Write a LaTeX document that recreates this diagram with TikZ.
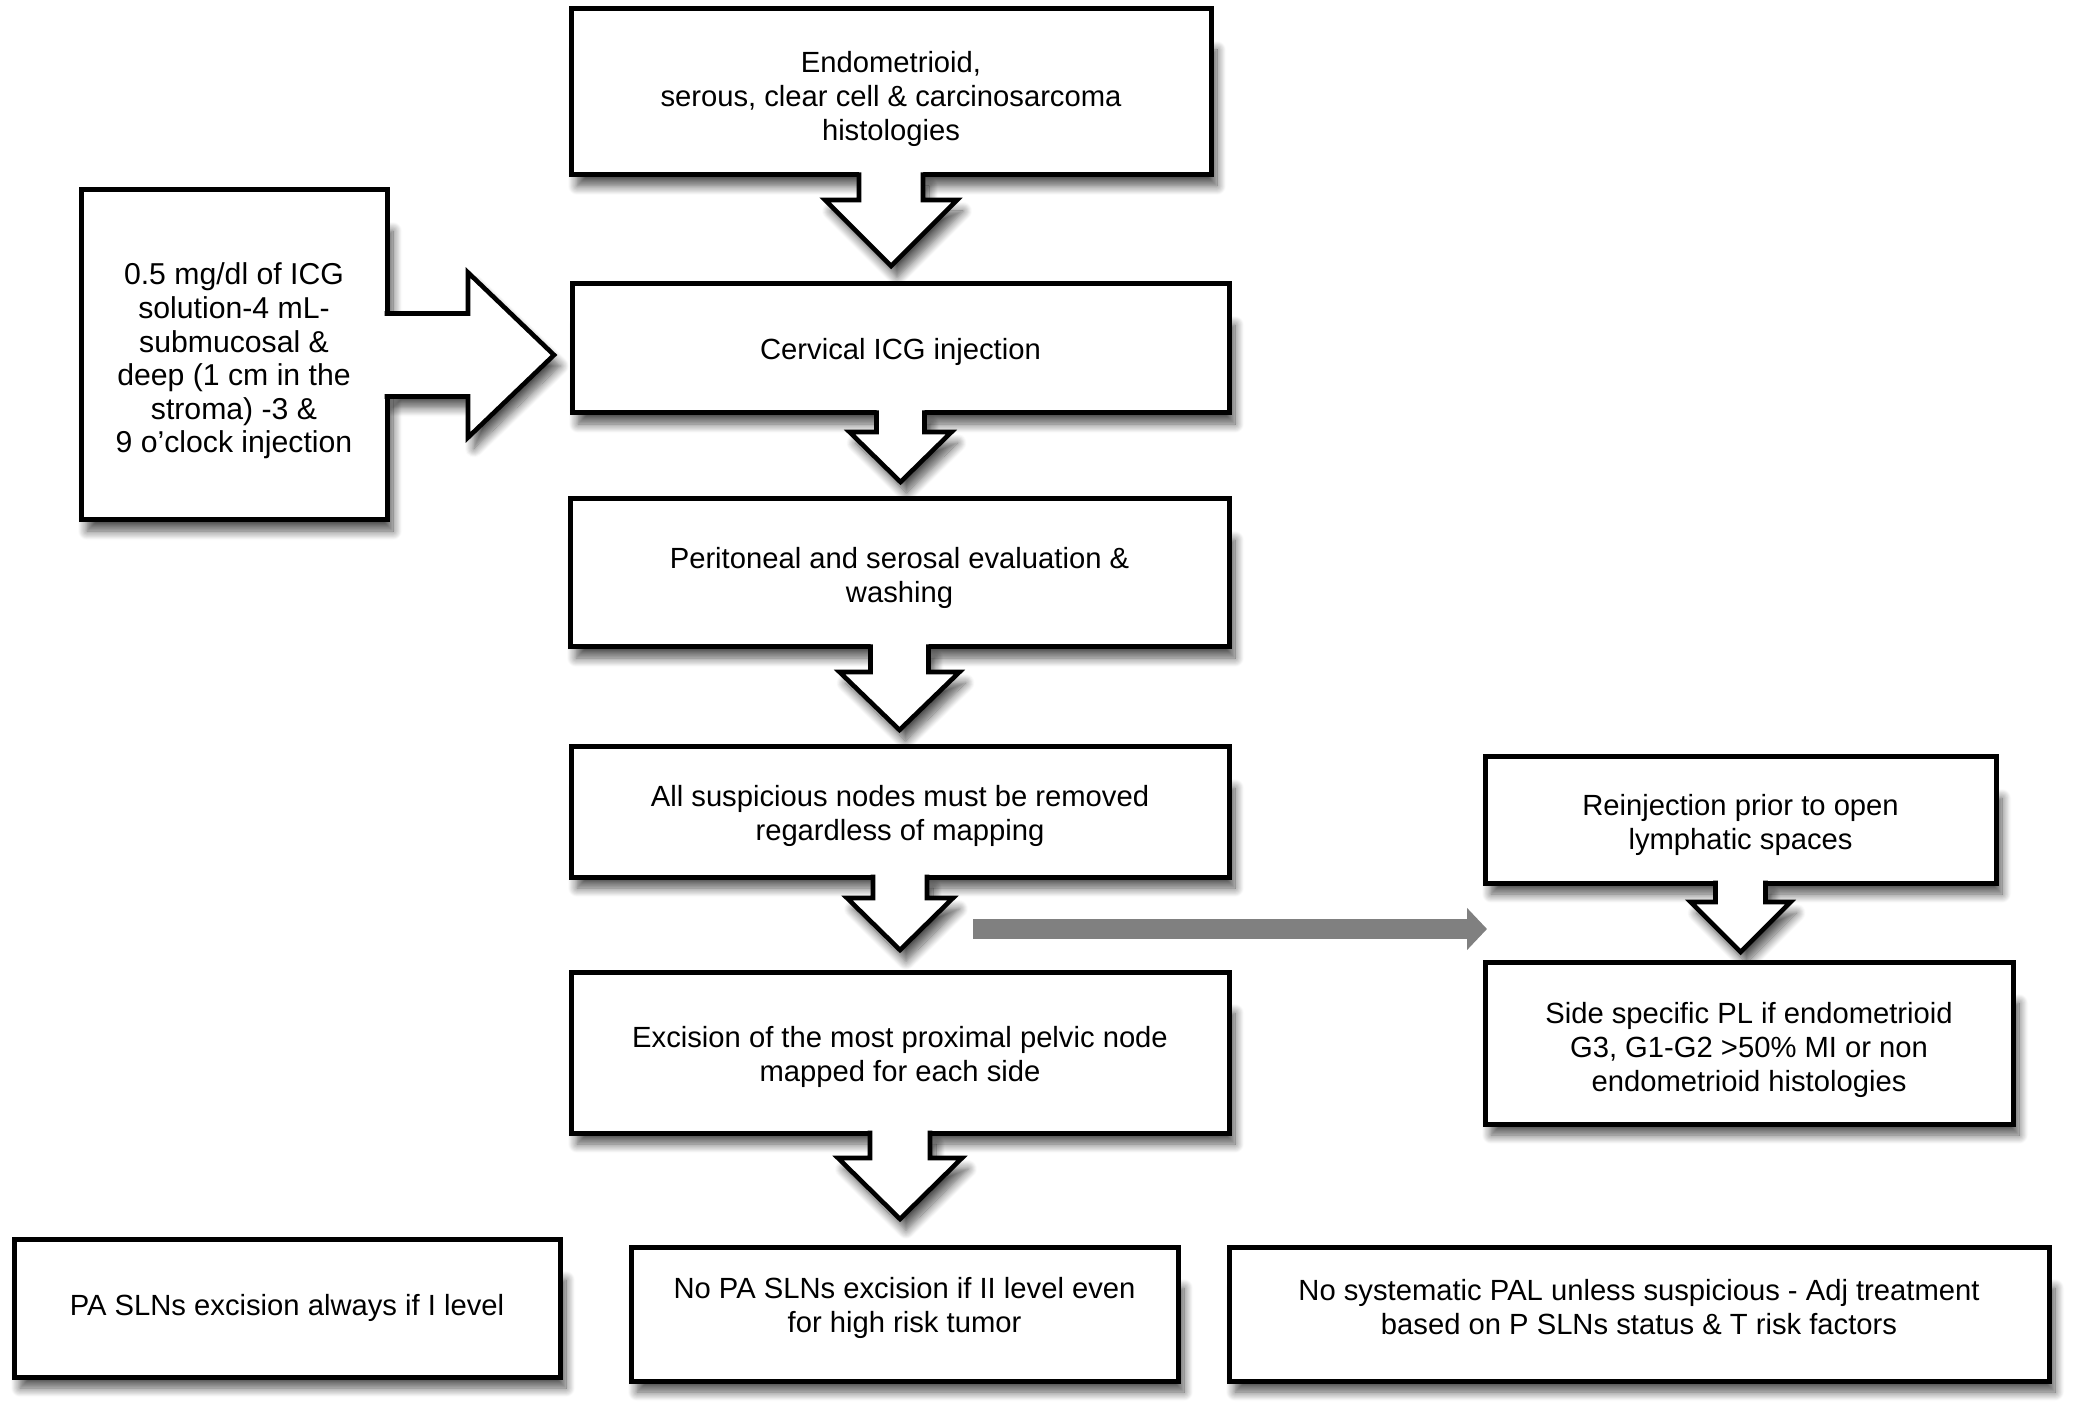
\documentclass[tikz,border=0pt]{standalone}
\usepackage{fontspec}
\setmainfont{Liberation Sans}
\usetikzlibrary{calc,shadows.blur,arrows.meta}
\pgfdeclarelayer{back}
\pgfdeclarelayer{bg}
\pgfsetlayers{back,bg,main}
\definecolor{arrgray}{RGB}{128,128,128}
\tikzset{
  bx/.style={draw, line width=2.5pt, fill=white, outer sep=0pt, inner sep=0pt},
  lbl/.style={align=center, inner sep=0pt, font=\fontsize{14.6}{17}\selectfont},
  shd/.style={blur shadow={shadow xshift=3pt, shadow yshift=-5.5pt, shadow blur radius=4.5pt,
    shadow opacity=68, shadow blur steps=12}},
  arrline/.style={line width=2.3pt, line join=miter},
}
% down block arrow: from, to, shaft half, head half, shaft length, gap (px)
\newcommand\dnarrow[6]{%
  \coordinate (tip) at ($(#1.south |- #2.north)+(0,-#6)$);
  \coordinate (s) at (#1.south);
  \begin{pgfonlayer}{bg}
    \path[shd] ($(s)+(-#3,0)$) -- ($(s)+(-#3,#5)$) -- ($(s)+(-#4,#5)$) -- (tip)
      -- ($(s)+(#4,#5)$) -- ($(s)+(#3,#5)$) -- ($(s)+(#3,0)$) -- cycle;
  \end{pgfonlayer}
  \fill[white] ($(s)+(-#3,-3)$) -- ($(s)+(-#3,#5)$) -- ($(s)+(-#4,#5)$) -- (tip)
      -- ($(s)+(#4,#5)$) -- ($(s)+(#3,#5)$) -- ($(s)+(#3,-3)$) -- cycle;
  \draw[arrline] ($(s)+(-#3,-2.5)$) -- ($(s)+(-#3,#5)$) -- ($(s)+(-#4,#5)$) -- (tip)
      -- ($(s)+(#4,#5)$) -- ($(s)+(#3,#5)$) -- ($(s)+(#3,-2.5)$);
}
% right block arrow
\newcommand\rtarrow[6]{%
  \coordinate (tip) at ($(#1.east -| #2.west)+(-#6,0)$);
  \coordinate (s) at (#1.east);
  \begin{pgfonlayer}{bg}
    \path[shd] ($(s)+(0,-#3)$) -- ($(s)+(#5,-#3)$) -- ($(s)+(#5,-#4)$) -- (tip)
      -- ($(s)+(#5,#4)$) -- ($(s)+(#5,#3)$) -- ($(s)+(0,#3)$) -- cycle;
  \end{pgfonlayer}
  \fill[white] ($(s)+(-3,-#3)$) -- ($(s)+(#5,-#3)$) -- ($(s)+(#5,-#4)$) -- (tip)
      -- ($(s)+(#5,#4)$) -- ($(s)+(#5,#3)$) -- ($(s)+(-3,#3)$) -- cycle;
  \draw[arrline] ($(s)+(-2.5,-#3)$) -- ($(s)+(#5,-#3)$) -- ($(s)+(#5,-#4)$) -- (tip)
      -- ($(s)+(#5,#4)$) -- ($(s)+(#5,#3)$) -- ($(s)+(-2.5,#3)$);
}
\begin{document}
\begin{tikzpicture}[x=0.5pt,y=-0.5pt]
\begin{pgfonlayer}{back}
\fill[white] (0,0) rectangle (2079,1411);
\end{pgfonlayer}
\useasboundingbox (0,0) rectangle (2079,1411);

\node[bx, minimum width=320pt, minimum height=83pt,
  label={[lbl,yshift=-3.5pt]center:{Endometrioid,\\serous, clear cell \& carcinosarcoma\\histologies}}]
  (b1) at (891,92) {};
\node[bx, minimum width=153pt, minimum height=165pt,
  label={[lbl,yshift=-3pt,font=\fontsize{15.1}{16.8}\selectfont]center:{0.5 mg/dl of ICG\\solution-4 mL-\\submucosal \&\\deep (1 cm in the\\stroma) -3 \&\\9 o’clock injection}}]
  (L) at (234,355) {};
\node[bx, minimum width=328.5pt, minimum height=64.5pt,
  label={[lbl,yshift=-1.5pt]center:{Cervical ICG injection}}]
  (b2) at (900.5,348.5) {};
\node[bx, minimum width=329.5pt, minimum height=74pt,
  label={[lbl,yshift=-2.5pt]center:{Peritoneal and serosal evaluation \&\\washing}}]
  (b3) at (899.5,573) {};
\node[bx, minimum width=329pt, minimum height=65pt,
  label={[lbl,yshift=-2pt]center:{All suspicious nodes must be removed\\regardless of mapping}}]
  (b4) at (900,812) {};
\node[bx, minimum width=329pt, minimum height=80.5pt,
  label={[lbl,yshift=-2pt]center:{Excision of the most proximal pelvic node\\mapped for each side}}]
  (b5) at (900,1052.5) {};
\node[bx, minimum width=255.5pt, minimum height=63pt,
  label={[lbl,yshift=-2.5pt]center:{Reinjection prior to open\\lymphatic spaces}}]
  (b6) at (1740.5,820) {};
\node[bx, minimum width=264pt, minimum height=81pt,
  label={[lbl,yshift=-3.5pt]center:{Side specific PL if endometrioid\\G3, G1-G2 >50\% MI or non\\endometrioid histologies}}]
  (b7) at (1749,1043) {};
\node[bx, minimum width=273pt, minimum height=69pt,
  label={[lbl]center:{PA SLNs excision always if I level}}]
  (p1) at (287,1308) {};
\node[bx, minimum width=273.5pt, minimum height=67pt,
  label={[lbl,yshift=3pt]center:{No PA SLNs excision if II level even\\for high risk tumor}}]
  (p2) at (904.5,1314) {};
\node[bx, minimum width=410pt, minimum height=67pt,
  label={[lbl,yshift=3.5pt]center:{No systematic PAL unless suspicious - Adj treatment\\based on P SLNs status \& T risk factors}}]
  (p3) at (1639,1314) {};

\begin{pgfonlayer}{bg}
  % hidden first shadow under box b5 (absorbs a renderer quirk)
  \path[shd] ($(b5.center)+(-10,-10)$) rectangle ($(b5.center)+(10,10)$);
  \foreach \n in {b1,L,b2,b3,b4,b5,b6,b7,p1,p2,p3}
    \path[shd] ($(\n.north west)+(0,30)$) rectangle (\n.south east);
\end{pgfonlayer}

\dnarrow{b1}{b2}{32}{66}{25}{18}
\rtarrow{L}{b2}{41.5}{82.5}{81}{18}
\dnarrow{b2}{b3}{24}{51}{19}{17}
\dnarrow{b3}{b4}{29}{60}{25}{17}
\dnarrow{b4}{b5}{27}{53}{21}{22}
\dnarrow{b5}{p2}{30}{62}{25}{28}
\dnarrow{b6}{b7}{25}{50}{19}{10}

\coordinate (g1) at (973,929);
\coordinate (g2) at (1487,929);
\draw[line width=10pt, arrgray, -{Triangle[width=20.5pt,length=10pt]}] (g1) -- (g2);
\end{tikzpicture}
\end{document}
